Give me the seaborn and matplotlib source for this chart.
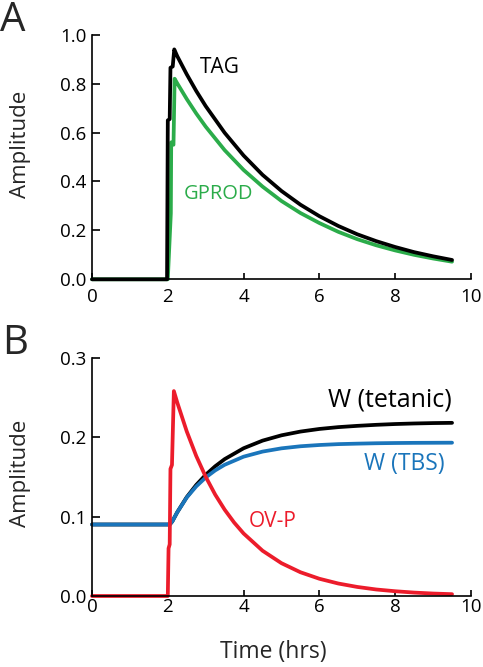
import matplotlib
matplotlib.use("Agg")
import matplotlib.pyplot as plt
import seaborn as sns
import pandas as pd

# ---- data ----
tag_t = [0, 1.98, 2.0, 2.05, 2.07, 2.13, 2.17, 2.25, 2.5, 2.75, 3.0, 3.5, 4.0, 4.5,
         5.0, 5.5, 6.0, 6.5, 7.0, 7.5, 8.0, 8.5, 9.0, 9.5]
tag_y = [0, 0, 0.65, 0.655, 0.865, 0.87, 0.94, 0.912, 0.838, 0.770, 0.708, 0.599, 0.506, 0.427,
         0.361, 0.305, 0.258, 0.218, 0.184, 0.156, 0.132, 0.111, 0.094, 0.079]

gprod_t = [0, 2.0, 2.08, 2.09, 2.15, 2.18, 2.25, 2.5, 2.75, 3.0, 3.5, 4.0, 4.5, 5.0, 5.5,
           6.0, 6.5, 7.0, 7.5, 8.0, 8.5, 9.0, 9.5]
gprod_y = [0, 0, 0.27, 0.56, 0.55, 0.82, 0.801, 0.737, 0.678, 0.624, 0.528, 0.447, 0.379, 0.320, 0.271,
           0.230, 0.194, 0.164, 0.139, 0.118, 0.100, 0.085, 0.072]

w_t = [0, 2.0, 2.06, 2.12, 2.25, 2.5, 2.75, 3.0, 3.25, 3.5, 4.0, 4.5, 5.0, 5.5, 6.0, 6.5,
       7.0, 7.5, 8.0, 8.5, 9.0, 9.5]
w_tet_y = [0.09, 0.09, 0.0905, 0.094, 0.1055, 0.1245, 0.1398, 0.1526, 0.1633, 0.1723, 0.186, 0.1956,
           0.2023, 0.207, 0.2103, 0.2126, 0.2142, 0.2155, 0.2165, 0.2172, 0.2177, 0.218]
w_tbs_y = [0.09, 0.09, 0.0905, 0.094, 0.1055, 0.124, 0.138, 0.1492, 0.1581, 0.1652, 0.1754, 0.1818,
           0.1859, 0.1885, 0.1901, 0.1912, 0.1918, 0.1923, 0.1926, 0.1928, 0.1929, 0.193]

ovp_t = [0, 2.0, 2.02, 2.05, 2.07, 2.11, 2.16, 2.25, 2.5, 2.75, 3.0, 3.25, 3.5, 3.75, 4.0,
         4.5, 5.0, 5.5, 6.0, 6.5, 7.0, 7.5, 8.0, 8.5, 9.0, 9.5]
ovp_y = [0, 0, 0.06, 0.065, 0.16, 0.165, 0.258, 0.2435, 0.2072, 0.1763, 0.1501, 0.1277, 0.1087, 0.0925,
         0.0787, 0.0570, 0.0413, 0.0299, 0.0217, 0.0157, 0.0114, 0.0082, 0.006, 0.0043, 0.0031, 0.0023]

x_ticks = [0, 2, 4, 6, 8, 10]
x_tick_labels = ["0", "2", "4", "6", "8", "10"]
ya_ticks = [0.0, 0.2, 0.4, 0.6, 0.8, 1.0]
ya_tick_labels = ["0.0", "0.2", "0.4", "0.6", "0.8", "1.0"]
yb_ticks = [0.0, 0.1, 0.2, 0.3]
yb_tick_labels = ["0.0", "0.1", "0.2", "0.3"]

BLACK = "#000000"
GREEN = "#2bac4a"
BLUE = "#1a75bb"
RED = "#ec1c2b"

sns.set_style("ticks")
plt.rcParams["font.family"] = ["Open Sans", "DejaVu Sans"]

fig = plt.figure(figsize=(4.83, 6.67), dpi=100)
axA = fig.add_axes([92 / 483, 1 - 279.3 / 667, 379 / 483, 244.6 / 667])
axB = fig.add_axes([92 / 483, 1 - 596 / 667, 379 / 483, 238.3 / 667])

LW = 2.7
kw = dict(estimator=None, sort=False, linewidth=LW, clip_on=False, legend=False)

dfA_g = pd.DataFrame({"t": gprod_t, "y": gprod_y})
dfA_k = pd.DataFrame({"t": tag_t, "y": tag_y})
sns.lineplot(data=dfA_g, x="t", y="y", ax=axA, color=GREEN, **kw)
sns.lineplot(data=dfA_k, x="t", y="y", ax=axA, color=BLACK, **kw)

dfB_k = pd.DataFrame({"t": w_t, "y": w_tet_y})
dfB_b = pd.DataFrame({"t": w_t, "y": w_tbs_y})
dfB_r = pd.DataFrame({"t": ovp_t, "y": ovp_y})
sns.lineplot(data=dfB_k, x="t", y="y", ax=axB, color=BLACK, **kw)
sns.lineplot(data=dfB_b, x="t", y="y", ax=axB, color=BLUE, **kw)
sns.lineplot(data=dfB_r, x="t", y="y", ax=axB, color=RED, **kw)

for ax, yt, ytl, ymax in [(axA, ya_ticks, ya_tick_labels, 1.0), (axB, yb_ticks, yb_tick_labels, 0.3)]:
    ax.set_xlim(0, 10)
    ax.set_ylim(0, ymax)
    ax.set_xticks(x_ticks)
    ax.set_xticklabels(x_tick_labels)
    ax.set_yticks(yt)
    ax.set_yticklabels(ytl)
    sns.despine(ax=ax)
    for s in ["left", "bottom"]:
        ax.spines[s].set_linewidth(1.2)
        ax.spines[s].set_color("black")
    ax.tick_params(axis="both", direction="in", width=1.2, color="black",
                   labelsize=13.5, labelcolor="black")
    ax.tick_params(axis="y", length=6, pad=4)
    ax.set_ylabel("Amplitude", fontsize=16)
    ax.set_xlabel("")

axA.tick_params(axis="x", length=4, pad=6)
axB.tick_params(axis="x", length=4, pad=1.5)

axA.yaxis.set_label_coords(-0.16, 0.55)
axB.yaxis.set_label_coords(-0.16, 0.516)

axB.set_xlabel("Time (hrs)", fontsize=16.5)
axB.xaxis.set_label_coords(0.478, -0.185)

axA.text(3.38, 0.867, "TAG", color=BLACK, fontsize=15, ha="center", va="center")
axA.text(3.35, 0.349, "GPROD", color=GREEN, fontsize=14.5, ha="center", va="center")
axB.text(9.5, 0.247, "W (tetanic)", color=BLACK, fontsize=18, ha="right", va="center")
axB.text(9.31, 0.166, "W (TBS)", color=BLUE, fontsize=16.5, ha="right", va="center")
axB.text(4.77, 0.0936, "OV-P", color=RED, fontsize=15, ha="center", va="center")

fig.text(12.7 / 483, 1 - 21 / 667, "A", fontsize=29, ha="center", va="center")
fig.text(15 / 483, 1 - 344 / 667, "B", fontsize=29, ha="center", va="center")

fig.savefig("out.png", dpi=100)
